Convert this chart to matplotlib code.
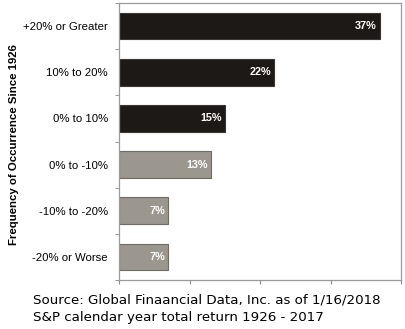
import numpy as np
import matplotlib.pyplot as plt

categories = ['+20% or Greater', '10% to 20%', '0% to 10%',
              '0% to -10%', '-10% to -20%', '-20% or Worse']
values = [37, 22, 15, 13, 7, 7]
positive = [True, True, True, False, False, False]

fig = plt.figure(figsize=(4.05, 3.29), dpi=100)
ax = fig.add_axes([119/405, 1 - 280/329, 282/405, 277/329])

y = np.arange(len(categories))
colors = ['#1d1916' if p else '#9b978f' for p in positive]
edges = ['#3a3632' if p else '#6f6b64' for p in positive]
ax.barh(y, values, height=0.58, color=colors, edgecolor=edges, linewidth=0.8)

for yi, v in zip(y, values):
    ax.text(v - 0.4, yi, f'{v}%', ha='right', va='center', color='white',
            fontsize=7.8, fontweight='bold', family='Liberation Sans')

ax.set_xlim(0, 40)
ax.set_ylim(len(categories) - 0.5, -0.5)
ax.set_yticks(y)
ax.set_yticklabels(categories, family='Liberation Sans', fontsize=8.2)
ax.set_yticks(np.arange(-0.5, len(categories), 1), minor=True)
ax.tick_params(axis='y', which='major', length=0, pad=8)
ax.tick_params(axis='y', which='minor', length=3, color='#888888')
ax.set_xticks([0, 10, 20, 30, 40])
ax.set_xticklabels([])
ax.tick_params(axis='x', length=3, color='#888888')
for s in ax.spines.values():
    s.set_color('#9a9a9a')
    s.set_linewidth(0.9)

fig.text(14/405, 1 - 145/329, 'Frequency of Occurrence Since 1926', rotation=90,
         ha='center', va='center', fontsize=8.2, fontweight='bold',
         family='Liberation Sans')

fig.text(33/405, 1 - 300/329, 'Source: Global Finaancial Data, Inc. as of 1/16/2018',
         ha='left', va='center', fontsize=9.6, family='DejaVu Sans')
fig.text(33/405, 1 - 317/329, 'S&P calendar year total return 1926 - 2017',
         ha='left', va='center', fontsize=9.6, family='DejaVu Sans')

fig.savefig('out.png', dpi=100)
